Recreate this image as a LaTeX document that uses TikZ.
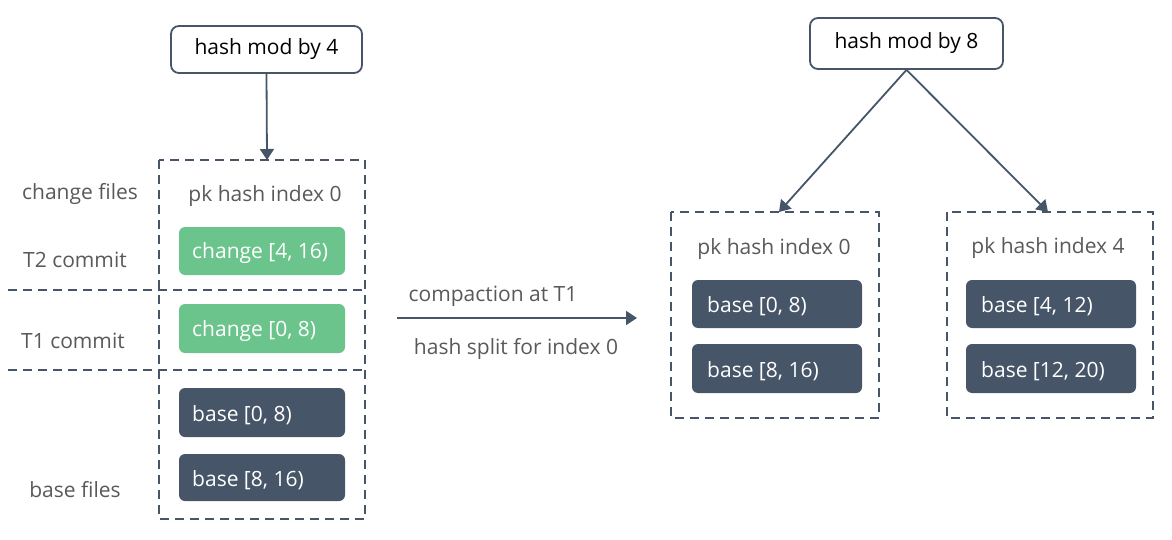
\documentclass[tikz,border=0pt]{standalone}
\usepackage{fontspec}
\setmainfont{Open Sans}
\usetikzlibrary{arrows.meta}
\definecolor{slate}{HTML}{475569}
\definecolor{grn}{HTML}{6CC48D}
\definecolor{lbl}{HTML}{595959}
\tikzset{
  topbox/.style={draw=slate, line width=1.8pt, rounded corners=8pt, fill=white, text=black, font=\fontsize{21}{24}\selectfont},
  filebox/.style={rounded corners=6pt, text=white, font=\fontsize{21}{24}\selectfont, anchor=west, inner sep=0pt, yshift=-2.5pt},
  grpbox/.style={draw=slate, line width=1.8pt, dash pattern=on 9pt off 6pt},
  lab/.style={text=lbl, font=\fontsize{21}{24}\selectfont, yshift=-2.5pt},
  conn/.style={draw=slate, line width=1.8pt, -{Triangle[length=11pt,width=14pt]}},
  divider/.style={draw=slate, line width=1.8pt, dash pattern=on 9pt off 6pt},
}
\begin{document}
\begin{tikzpicture}[x=1pt,y=-1pt]
\useasboundingbox (0,0) rectangle (1172,540);
% left side
\node[topbox, minimum width=191pt, minimum height=47pt] (h4) at (266.5,49.5) {hash mod by 4};
\draw[grpbox] (159,160) rectangle (365,519);
\coordinate (g0top) at (267,160);
\node[lab] (pk0l) at (265,194) {pk hash index 0};
\draw[divider] (8,290) -- (365,290);
\draw[divider] (8,370) -- (365,370);
\node[lab] (lcf) at (80,191) {change files};
\node[lab] (lt2) at (75,257) {T2 commit};
\node[lab] (lt1) at (73,338) {T1 commit};
\node[lab] (lbf) at (75,487) {base files};
\fill[grn, rounded corners=6pt] (179,227) rectangle (345,275);
\node[filebox] (c416) at (192,251) {change [4, 16)};
\fill[grn, rounded corners=6pt] (179,304) rectangle (345,353);
\node[filebox] (c08) at (192,328.5) {change [0, 8)};
\fill[slate, rounded corners=6pt] (179,388) rectangle (345,437);
\node[filebox] (lb08) at (192,412.5) {base [0, 8)};
\fill[slate, rounded corners=6pt] (179,454) rectangle (345,501);
\node[filebox] (lb816) at (192,477.5) {base [8, 16)};
\draw[conn] (h4.south) -- (g0top);
% middle
\coordinate (ms) at (397,318);
\coordinate (me) at (637,318);
\draw[conn] (ms) -- (me);
\node[lab] (cmp) at (493,294) {compaction at T1};
\node[lab] (hsp) at (516,346) {hash split for index 0};
% right side
\node[topbox, minimum width=193pt, minimum height=51pt] (h8) at (906.5,43.5) {hash mod by 8};
\draw[grpbox] (671,212) rectangle (879,418);
\draw[grpbox] (947,212) rectangle (1153,418);
\coordinate (r0top) at (779,212);
\coordinate (r4top) at (1048,212);
\node[lab] (pk0r) at (774,247) {pk hash index 0};
\node[lab] (pk4r) at (1048,246) {pk hash index 4};
\fill[slate, rounded corners=6pt] (692,280) rectangle (862,328);
\node[filebox] (rb08) at (707,304) {base [0, 8)};
\fill[slate, rounded corners=6pt] (692,344) rectangle (862,393);
\node[filebox] (rb816) at (707,368.5) {base [8, 16)};
\fill[slate, rounded corners=6pt] (966,280) rectangle (1136,328);
\node[filebox] (rb412) at (981,304) {base [4, 12)};
\fill[slate, rounded corners=6pt] (966,344) rectangle (1136,393);
\node[filebox] (rb1220) at (981,368.5) {base [12, 20)};
\draw[conn] (h8.south) -- (r0top);
\draw[conn] (h8.south) -- (r4top);
\end{tikzpicture}
\end{document}
